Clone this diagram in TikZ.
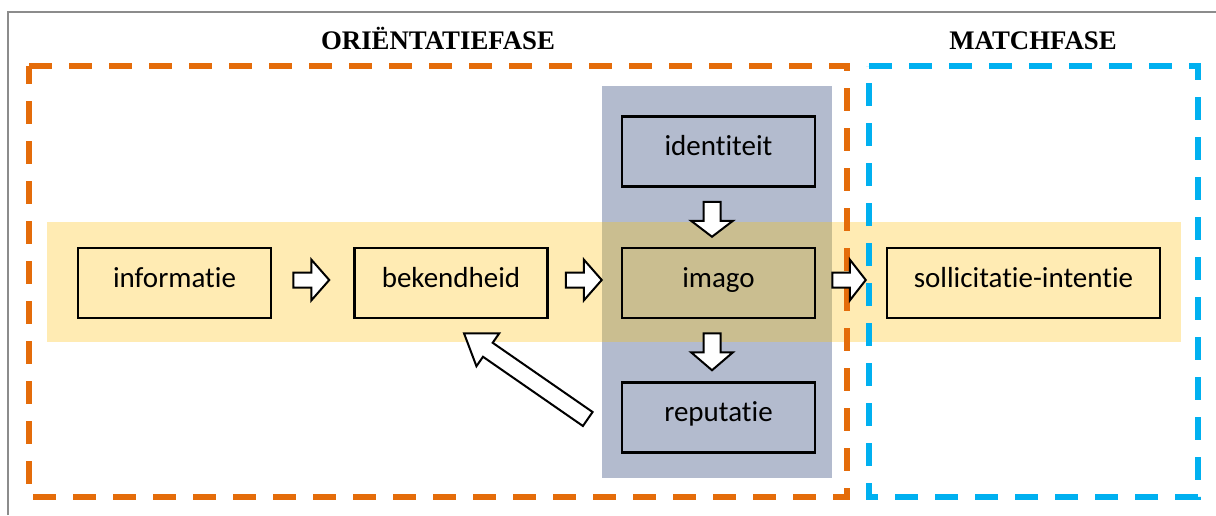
\documentclass[tikz,border=0pt]{standalone}
\usepackage{fontspec}
\setmainfont{Carlito}[Ligatures={NoCommon,NoRequired,NoContextual}]
\newfontfamily\headfont{Liberation Serif}
\usetikzlibrary{calc}

\definecolor{bandyellow}{HTML}{FFEBB3}
\definecolor{bandgray}{HTML}{B3BBCE}
\definecolor{bandmix}{HTML}{CABE90}
\definecolor{phaseorange}{HTML}{E46C0A}
\definecolor{phaseblue}{HTML}{00B0F0}
\definecolor{framegray}{HTML}{8C8C8C}

% outlined block arrow from tail #1 to tip #2:
% #3 shaft half-width, #4 head half-width, #5 head length
\newcommand\blockarrow[5]{%
  \draw[barrow]
    ($(#1)!#3!90:(#2)$) --
    ($(#2)!#5!(#1)!#3!90:(#2)$) --
    ($(#2)!#5!(#1)!#4!90:(#2)$) --
    (#2) --
    ($(#2)!#5!(#1)!#4!-90:(#2)$) --
    ($(#2)!#5!(#1)!#3!-90:(#2)$) --
    ($(#1)!#3!-90:(#2)$) -- cycle;}

\begin{document}
\begin{tikzpicture}[x=0.5pt,y=-0.5pt,
  stagebox/.style={draw=black, line width=1.25pt, rectangle,
    minimum width=96.5pt, minimum height=35pt, inner sep=2pt,
    text height=10pt, text depth=6pt,
    font=\fontsize{14.5}{17}\selectfont},
  barrow/.style={draw=black, fill=white, line width=1pt, line join=miter},
  phase/.style={line width=3pt, dash pattern=on 11.5pt off 8.5pt},
  phasetitle/.style={anchor=base, font=\headfont\bfseries\fontsize{13.4}{15}\selectfont}]
\useasboundingbox (0,0) rectangle (1216,515);

% page frame
\draw[framegray, line width=1pt] (8,515) -- (8,12) -- (1216,12);

% background bands
\fill[bandgray] (602,86) rectangle (832,478);
\fill[bandyellow] (47,222) rectangle (1181,342);
\fill[bandmix] (602,222) rectangle (832,342);

% phase frames
\draw[phase, phaseorange] (29,66) -- (847,66) -- (847,497) -- (29,497) -- cycle;
\draw[phase, phaseblue] (869,66) -- (1198,66) -- (1198,497) -- (869,497) -- cycle;

\node[phasetitle] (tor) at (438,49) {ORIËNTATIEFASE};
\node[phasetitle] (tma) at (1033,49) {MATCHFASE};

% stages
\node[stagebox] (inf) at (174.5,283) {informatie};
\node[stagebox] (bek) at (451,283) {bekendheid};
\node[stagebox] (img) at (718.5,283) {imago};
\node[stagebox] (idt) at (718.5,151.5) {identiteit};
\node[stagebox] (rep) at (718.5,417.5) {reputatie};
\node[stagebox, minimum width=136.5pt] (sol) at (1023.5,283) {sollicitatie-intentie};

% arrow end points
\coordinate (a1s) at ($(inf.east)+(21,-3)$);
\coordinate (a1e) at ($(bek.west)+(-24,-3)$);
\coordinate (a2s) at ($(bek.east)+(17,-3)$);
\coordinate (a2e) at ($(img.west)+(-19,-3)$);
\coordinate (a3s) at ($(img.east)+(16,-3)$);
\coordinate (a3e) at ($(sol.west)+(-20,-3)$);
\coordinate (a4s) at ($(idt.south)+(-6.5,14)$);
\coordinate (a4e) at ($(img.north)+(-6.5,-10)$);
\coordinate (a5s) at ($(img.south)+(-6.5,14)$);
\coordinate (a5e) at ($(rep.north)+(-6.5,-11)$);
\coordinate (a6s) at ($(rep.west)+(-33,1.5)$);
\coordinate (a6e) at ($(bek.south)+(13,14)$);

\blockarrow{a1s}{a1e}{3.75pt}{10.25pt}{9pt}
\blockarrow{a2s}{a2e}{3.75pt}{10.25pt}{9pt}
\blockarrow{a3s}{a3e}{3.75pt}{10.25pt}{8pt}
\blockarrow{a4s}{a4e}{4.25pt}{10.5pt}{8pt}
\blockarrow{a5s}{a5e}{4.25pt}{10.5pt}{9pt}
\blockarrow{a6s}{a6e}{4.25pt}{10pt}{14.5pt}
\end{tikzpicture}
\end{document}
